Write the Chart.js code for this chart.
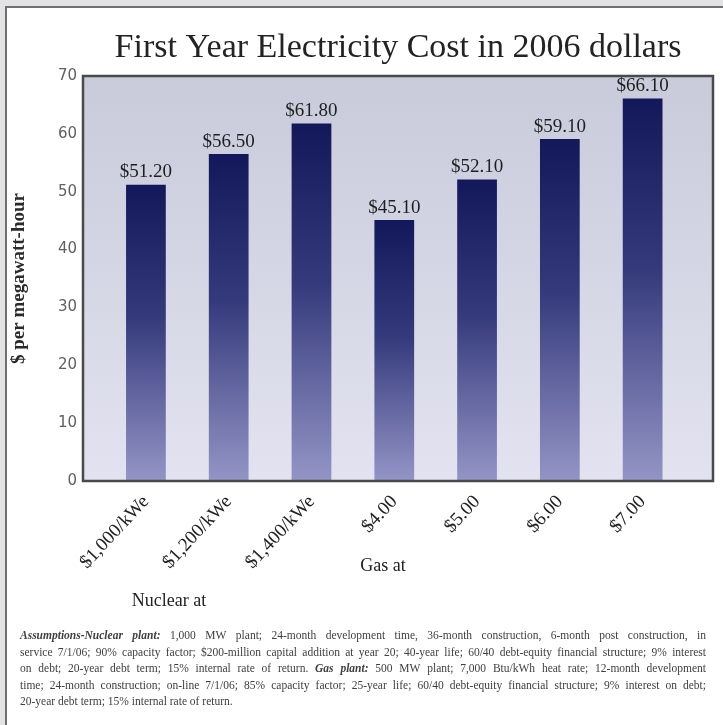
<!DOCTYPE html>
<html>
<head>
<meta charset="utf-8">
<script src="https://cdn.jsdelivr.net/npm/chart.js@4/dist/chart.umd.min.js"></script>
<style>
  html, body { margin: 0; padding: 0; width: 723px; height: 725px; overflow: hidden; background: #e3e3e6; }
  #panel { position: absolute; left: 5px; top: 6px; width: 760px; height: 760px; background: #ffffff;
           border-left: 2px solid #707070; border-top: 2px solid #707070; }
  #wrap { position: absolute; left: 0; top: 0; width: 723px; height: 725px; }
</style>
</head>
<body>
<div id="panel"></div>
<div id="wrap"><canvas id="c" width="723" height="725"></canvas></div>
<script>
// Categories: nuclear capital cost, then gas fuel price
const categories = ['$1,000/kWe', '$1,200/kWe', '$1,400/kWe', '$4.00', '$5.00', '$6.00', '$7.00'];
// First-year cost, $ per megawatt-hour
const costs = [51.2, 56.5, 61.8, 45.1, 52.1, 59.1, 66.1];
const yTicks = [0, 10, 20, 30, 40, 50, 60, 70];
const chartTitle = 'First Year Electricity Cost in 2006 dollars';
const groupLabels = ['Nuclear at', 'Gas at'];

// Footnote lines; 'bi' = bold italic run, 'r' = regular run
const footnoteLines = [
  [['bi', 'Assumptions-Nuclear plant:'], ['r', '1,000 MW plant; 24-month development time, 36-month construction, 6-month post construction, in']],
  [['r', 'service 7/1/06; 90% capacity factor; $200-million capital addition at year 20; 40-year life; 60/40 debt-equity financial structure; 9% interest']],
  [['r', 'on debt; 20-year debt term; 15% internal rate of return.'], ['bi', 'Gas plant:'], ['r', '500 MW plant; 7,000 Btu/kWh heat rate; 12-month development']],
  [['r', 'time; 24-month construction; on-line 7/1/06; 85% capacity factor; 25-year life; 60/40 debt-equity financial structure; 9% interest on debt;']],
  [['r', '20-year debt term; 15% internal rate of return.']]
];

const SERIF = '"Liberation Serif", "Times New Roman", serif';

// Light lavender plot background and dark frame around it
const plotFrame = {
  id: 'plotFrame',
  beforeDatasetsDraw(chart) {
    const { ctx, chartArea: a } = chart;
    const g = ctx.createLinearGradient(0, a.top, 0, a.bottom);
    g.addColorStop(0, '#c9cbda');
    g.addColorStop(1, '#e2e2f0');
    ctx.save();
    ctx.fillStyle = g;
    ctx.fillRect(a.left, a.top, a.right - a.left, a.bottom - a.top);
    ctx.restore();
  },
  afterDatasetsDraw(chart) {
    const { ctx, chartArea: a } = chart;
    ctx.save();
    ctx.strokeStyle = '#4a4a4a';
    ctx.lineWidth = 2.5;
    ctx.strokeRect(a.left, a.top, a.right - a.left, a.bottom - a.top);
    ctx.restore();
  }
};

// Dollar value printed above each bar
const valueLabels = {
  id: 'valueLabels',
  afterDatasetsDraw(chart) {
    const { ctx } = chart;
    const meta = chart.getDatasetMeta(0);
    ctx.save();
    ctx.font = '19px ' + SERIF;
    ctx.fillStyle = '#1e1e1e';
    ctx.textAlign = 'center';
    ctx.textBaseline = 'bottom';
    meta.data.forEach((bar, i) => {
      ctx.fillText('$' + costs[i].toFixed(2), bar.x, bar.y - 3);
    });
    ctx.restore();
  }
};

// Title centred over the plot, group captions, and the justified assumptions note
const captions = {
  id: 'captions',
  afterDraw(chart) {
    const { ctx, chartArea: a } = chart;
    ctx.save();
    ctx.fillStyle = '#232323';
    ctx.font = '34px ' + SERIF;
    ctx.textAlign = 'center';
    ctx.textBaseline = 'alphabetic';
    ctx.fillText(chartTitle, (a.left + a.right) / 2, 57);

    ctx.fillStyle = '#222';
    ctx.font = '18px ' + SERIF;
    ctx.textBaseline = 'middle';
    ctx.fillText(groupLabels[0], 169, 601);
    ctx.fillText(groupLabels[1], 383, 566);

    const left = 20, right = 706, size = 11.5;
    const fonts = { r: size + 'px ' + SERIF, bi: 'italic bold ' + size + 'px ' + SERIF };
    ctx.textAlign = 'left';
    ctx.textBaseline = 'alphabetic';
    ctx.fillStyle = '#404040';
    footnoteLines.forEach((line, li) => {
      const words = [];
      line.forEach(([style, text]) => {
        text.split(' ').filter(w => w.length).forEach(w => words.push({ style, w }));
      });
      let total = 0;
      words.forEach(o => { ctx.font = fonts[o.style]; o.width = ctx.measureText(o.w).width; total += o.width; });
      ctx.font = fonts.r;
      const space = ctx.measureText(' ').width;
      const justify = li < footnoteLines.length - 1;
      const gap = justify ? (right - left - total) / (words.length - 1) : space;
      let x = left;
      const y = 639 + li * 16.5;
      words.forEach(o => {
        ctx.font = fonts[o.style];
        ctx.fillText(o.w, x, y);
        x += o.width + gap;
      });
    });
    ctx.restore();
  }
};

const ctx = document.getElementById('c').getContext('2d');
new Chart(ctx, {
  type: 'bar',
  data: {
    datasets: [{
      data: costs.map((v, i) => ({ x: i, y: v })),
      barPercentage: 0.48,
      categoryPercentage: 1,
      borderWidth: 0,
      backgroundColor(c) {
        const chart = c.chart;
        if (!chart.chartArea || c.type !== 'data' || !c.raw) return '#2a2f72';
        const ys = chart.scales.y;
        const top = ys.getPixelForValue(c.raw.y);
        const bottom = ys.getPixelForValue(0);
        const g = chart.ctx.createLinearGradient(0, top, 0, bottom);
        g.addColorStop(0, '#12185a');
        g.addColorStop(0.45, '#353a7c');
        g.addColorStop(1, '#9495c6');
        return g;
      }
    }]
  },
  options: {
    responsive: false,
    devicePixelRatio: 1,
    animation: false,
    layout: { padding: { left: 0, right: 10, top: 76, bottom: 0 } },
    plugins: {
      legend: { display: false },
      tooltip: { enabled: false },
      title: { display: false }
    },
    scales: {
      x: {
        type: 'linear',
        bounds: 'data',
        offset: false,
        min: -0.76,
        max: 6.85,
        grid: { display: false, drawTicks: false, offset: false },
        border: { display: false },
        afterBuildTicks(scale) { scale.ticks = categories.map((_, i) => ({ value: i })); },
        afterFit(scale) { scale.height = 244; },
        ticks: {
          autoSkip: false,
          minRotation: 47,
          maxRotation: 47,
          padding: 10,
          color: '#222',
          font: { family: SERIF, size: 19 },
          callback: v => categories[v]
        }
      },
      y: {
        min: 0,
        max: 70,
        grid: { display: false, drawTicks: false },
        border: { display: false },
        afterBuildTicks(scale) { scale.ticks = yTicks.map(v => ({ value: v })); },
        afterFit(scale) { scale.width = 83; },
        ticks: {
          padding: 6,
          color: '#606060',
          font: { family: '"DejaVu Sans", sans-serif', size: 15 }
        },
        title: {
          display: true,
          text: '$ per megawatt-hour',
          color: '#2a2a2a',
          font: { family: SERIF, size: 19, weight: 'bold' },
          padding: { top: 8, bottom: 0 }
        }
      }
    }
  },
  plugins: [plotFrame, valueLabels, captions]
});
</script>
</body>
</html>
